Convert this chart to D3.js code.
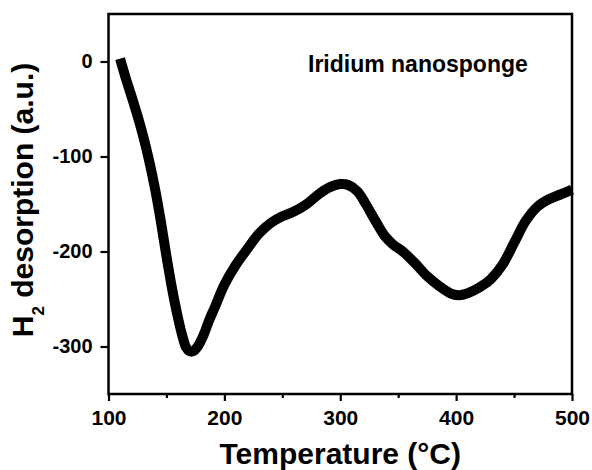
<!DOCTYPE html>
<html>
<head>
<meta charset="utf-8">
<script src="https://cdn.jsdelivr.net/npm/d3@7"></script>
<style>
  html, body { margin: 0; padding: 0; background: #ffffff; }
  svg { display: block; }
  text { font-family: "Liberation Sans", Arial, Helvetica, sans-serif; font-weight: bold; fill: #000; }
</style>
</head>
<body>
<svg id="chart" width="592" height="470"></svg>
<script>
// TPD trace of H2 desorption from an iridium nanosponge
const temperature = [110, 115, 120, 125, 130, 135, 140, 145, 150, 155, 160, 164, 167, 170, 173, 177, 182, 187, 192,
  200, 210, 220, 230, 240, 250, 260, 270, 280, 290, 300, 307, 315, 322, 330, 338, 345, 355, 365, 375,
  385, 395, 402, 410, 420, 430, 440, 450, 460, 470, 480, 490, 500];
const desorption = [3, -18, -37, -57, -79, -104, -133, -167, -205, -240, -270, -290, -301, -305, -305, -300, -288, -272, -258,
  -235, -214, -197, -181, -170, -163, -158, -151, -141, -133, -129, -130, -137, -150, -167, -183, -192, -201, -213, -226,
  -236, -244, -246, -244, -238, -229, -214, -191, -168, -153, -145, -140, -135];

const xMajorTicks = [100, 200, 300, 400, 500];
const xMinorTicks = [150, 250, 350, 450];
const yTicks = [0, -100, -200, -300];
const xDomain = [100, 500];
const yDomain = [-350, 50];

const sampleLabel = "Iridium nanosponge";

const svg = d3.select("#chart");
const plot = { left: 108.5, right: 572, top: 14, bottom: 394 };

const x = d3.scaleLinear().domain(xDomain).range([plot.left, plot.right]);
const y = d3.scaleLinear().domain(yDomain).range([plot.bottom, plot.top]);

// plain hyphen-minus for negative tick labels
const plain = d => String(d);

// x axis: labelled major ticks and short minor ticks
const gx = svg.append("g").attr("transform", `translate(0,${plot.bottom})`)
  .call(d3.axisBottom(x).tickValues(xMajorTicks).tickFormat(plain).tickSize(7).tickPadding(9));
gx.selectAll("text").style("font-size", "21px");

svg.append("g").attr("transform", `translate(0,${plot.bottom})`)
  .call(d3.axisBottom(x).tickValues(xMinorTicks).tickFormat("").tickSize(4));

// y axis
const gy = svg.append("g").attr("transform", `translate(${plot.left},0)`)
  .call(d3.axisLeft(y).tickValues(yTicks).tickFormat(plain).tickSize(8).tickPadding(8));
gy.selectAll("text").style("font-size", "20px");

svg.selectAll(".domain").remove();
svg.selectAll(".tick line").attr("stroke", "#000").attr("stroke-width", 2.2);

// frame around the plot area
svg.append("rect")
  .attr("x", plot.left).attr("y", plot.top)
  .attr("width", plot.right - plot.left).attr("height", plot.bottom - plot.top)
  .attr("fill", "none").attr("stroke", "#000").attr("stroke-width", 2.5);

// the trace
const points = temperature.map((t, i) => [t, desorption[i]]);
const line = d3.line()
  .x(d => x(d[0]))
  .y(d => y(d[1]))
  .curve(d3.curveCatmullRom.alpha(0.5));

svg.append("path")
  .datum(points)
  .attr("d", line)
  .attr("fill", "none")
  .attr("stroke", "#000")
  .attr("stroke-width", 10)
  .attr("stroke-linejoin", "round")
  .attr("stroke-linecap", "butt");

// sample label
svg.append("text")
  .attr("x", 308).attr("y", 72)
  .style("font-size", "23px")
  .text(sampleLabel);

// axis titles
svg.append("text")
  .attr("x", (plot.left + plot.right) / 2).attr("y", 464)
  .attr("text-anchor", "middle")
  .style("font-size", "30px")
  .text("Temperature (°C)");

const yTitle = svg.append("text")
  .attr("transform", "translate(33,200) rotate(-90)")
  .attr("text-anchor", "middle")
  .style("font-size", "30px");
yTitle.append("tspan").text("H");
yTitle.append("tspan").attr("dy", 11).style("font-size", "17px").text("2");
yTitle.append("tspan").attr("dy", -11).text(" desorption (a.u.)");
</script>
</body>
</html>
